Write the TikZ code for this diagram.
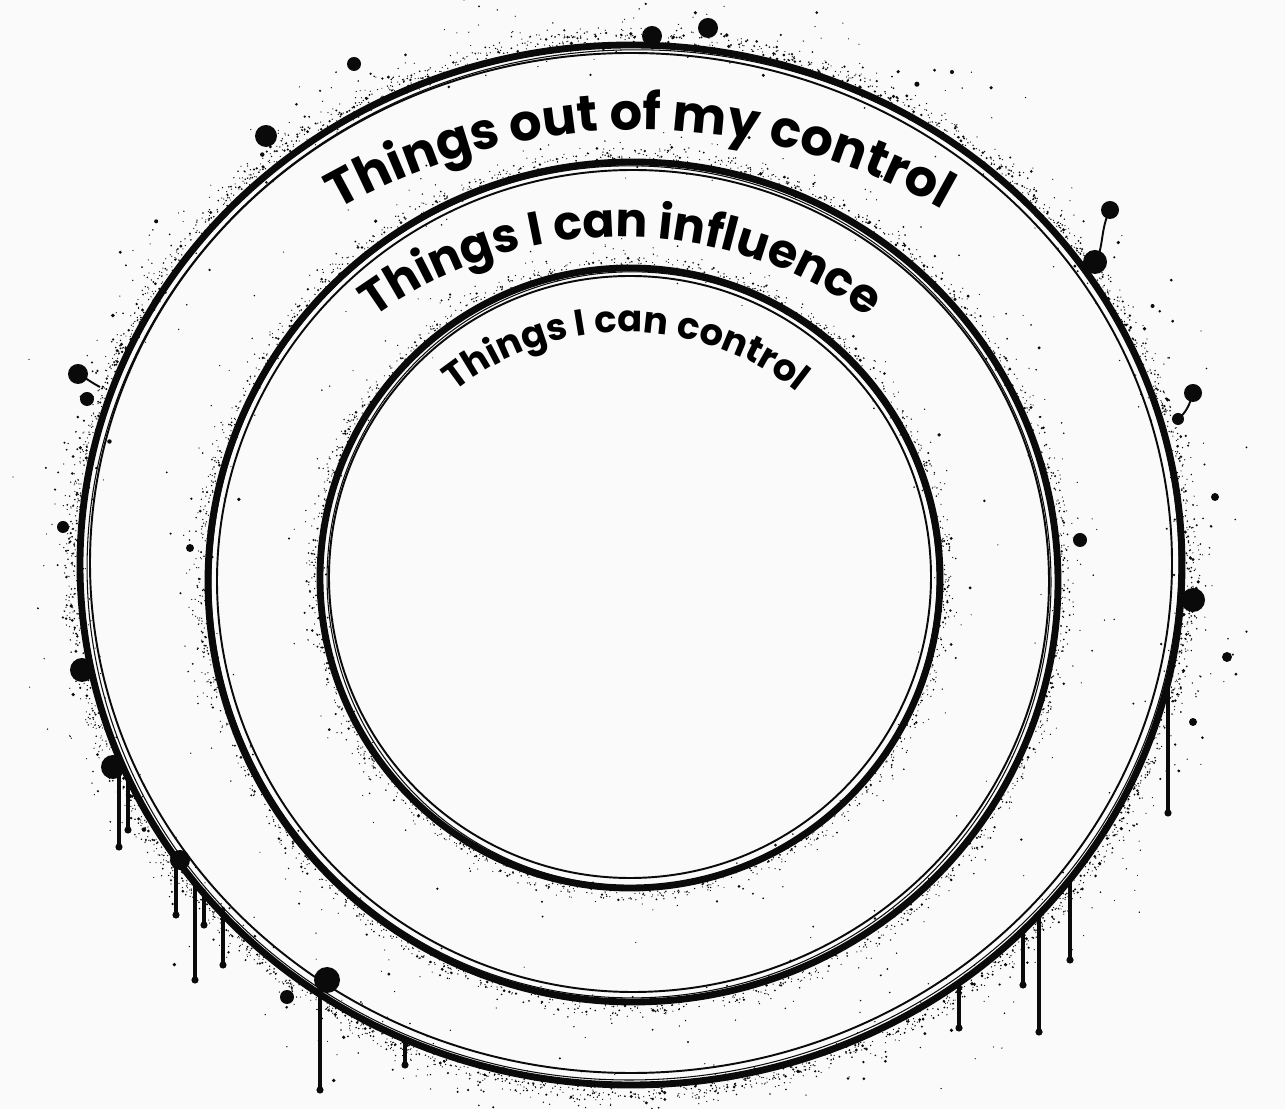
\documentclass[tikz,border=0pt]{standalone}
\usepackage{fontspec}
\newfontfamily\ringfont{Poppins}
\usetikzlibrary{decorations.text}
\definecolor{paper}{RGB}{250,250,250}
\definecolor{ink}{RGB}{10,10,10}

% spray of paint round an ellipse: cx, cy, rx, ry, count, spread, max dot
\newcommand{\spray}[7]{%
  \foreach \k in {1,...,#5}{%
    \pgfmathsetmacro{\sang}{360*rnd}%
    \pgfmathsetmacro{\soff}{(rnd+rnd+rnd-1.5)*#6+0.5*#6}%
    \pgfmathsetmacro{\srad}{0.6+#7*rnd*rnd*rnd}%
    \fill[ink] ({#1+(#3+\soff)*cos(\sang)},{#2+(#4+\soff)*sin(\sang)}) circle[radius=\srad];
  }}

\begin{document}
\begin{tikzpicture}[x=0.02cm,y=0.02cm,
    ring/.style={ink,line width=3.9pt},
    brush/.style={ink,line width=1.1pt},
    drip/.style={ink,line width=2.4pt,line cap=round}]
  \def\xo{631}  \def\yo{544}   % outer ring
  \def\xm{633}  \def\ym{527}   % middle ring
  \def\xi{630}  \def\yi{531}   % inner ring
  \pgfmathsetseed{4242}

  % --- paper
  \fill[paper] (0,0) rectangle (1285,1109);
  \useasboundingbox (0,0) rectangle (1285,1109);

  % --- spray
  \spray{\xo}{\yo}{555}{524}{2400}{9}{1.6}
  \spray{\xo}{\yo}{551}{520}{800}{22}{1.8}
  \spray{\xo}{\yo}{551}{520}{300}{50}{2.8}
  \spray{\xm}{\ym}{428}{423}{1400}{8}{1.3}
  \spray{\xm}{\ym}{425}{420}{300}{24}{1.6}
  \spray{\xm}{\ym}{425}{420}{120}{40}{2.2}
  \spray{\xi}{\yi}{313}{313}{1000}{7}{1.2}
  \spray{\xi}{\yi}{310}{310}{220}{20}{1.5}
  \spray{\xi}{\yi}{310}{310}{80}{34}{2.0}

  % --- rings
  \draw[ring]  (\xo,\yo) ellipse[x radius=551, y radius=520];
  \draw[brush] (\xo,\yo+2) ellipse[x radius=541, y radius=510];
  \draw[brush,line width=0.6pt,rotate around={3:(\xo,\yo)}] (\xo+2,\yo) ellipse[x radius=546, y radius=515];
  \draw[ring]  (\xm,\ym) ellipse[x radius=425, y radius=420];
  \draw[brush] (\xm,\ym+1) ellipse[x radius=416, y radius=411];
  \draw[brush,line width=0.6pt,rotate around={-4:(\xm,\ym)}] (\xm-2,\ym) ellipse[x radius=420, y radius=416];
  \draw[ring]  (\xi,\yi) circle[radius=310];
  \draw[brush] (\xi,\yi+1) circle[radius=301];
  \draw[brush,line width=0.6pt,rotate around={5:(\xi,\yi)}] (\xi+2,\yi-1) ellipse[x radius=305, y radius=307];

  % --- drips
  \foreach \x/\ya/\yb in {119/345/262, 128/330/279, 176/250/194, 195/226/129,
      204/218/184, 223/200/144, 320/112/19, 405/68/44, 1168/425/296,
      1070/228/149, 1039/195/77, 1023/178/124, 959/126/81}{
    \draw[drip] (\x,\ya) -- (\x,\yb);
    \fill[ink] (\x,\yb) circle[radius=3.6];
  }

  % --- blobs
  \foreach \x/\y/\r in {266/973/11, 354/1045/7, 652/1073/10, 708/1081/10,
      1110/899/9, 1095/847/12, 1193/716/9, 1178/690/6, 78/735/10, 87/710/7,
      63/582/6, 82/439/12, 190/561/4, 1080/569/7, 1193/509/12, 113/342/12,
      327/129/13, 287/112/7, 180/249/10, 1193/387/4, 1215/612/4, 1227/452/5}{
    \fill[ink] (\x,\y) circle[radius=\r];
  }
  \draw[ink,line width=1.1pt] (1095,847) .. controls (1104,860) and (1100,880) .. (1110,899);
  \draw[ink,line width=1.1pt] (1178,690) .. controls (1186,696) and (1190,705) .. (1193,716);
  \draw[ink,line width=1.1pt] (100,722) .. controls (92,726) and (86,731) .. (78,735);

  % --- labels along the rings
  \path[decorate,decoration={text along path,text align=center,
      text={|\ringfont\bfseries\fontsize{29}{29}\selectfont|Things out of my control}}]
    (640,369) ++(140:610) arc[start angle=140, end angle=40, radius=610];
  \path[decorate,decoration={text along path,text align=center,
      text={|\ringfont\bfseries\fontsize{27}{27}\selectfont|Things I can influence}}]
    (621,452) ++(145:420) arc[start angle=145, end angle=35, radius=420];
  \path[decorate,decoration={text along path,text align=center,
      text={|\ringfont\bfseries\fontsize{21}{21}\selectfont|Things I can control}}]
    (626,502) ++(150:275) arc[start angle=150, end angle=30, radius=275];
\end{tikzpicture}
\end{document}
